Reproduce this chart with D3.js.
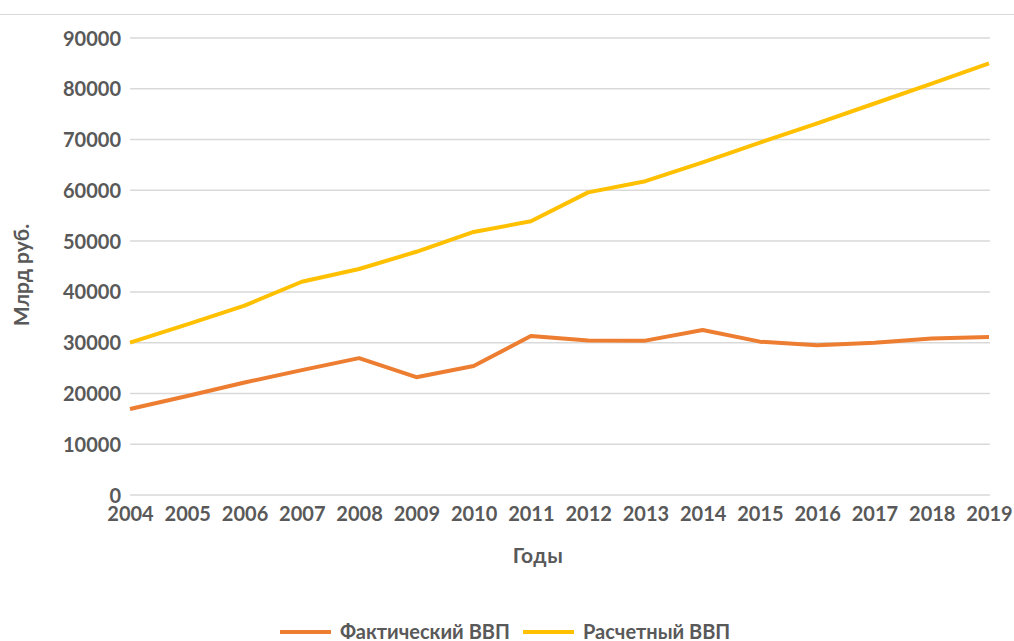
<!DOCTYPE html>
<html>
<head>
<meta charset="utf-8">
<script src="https://cdn.jsdelivr.net/npm/d3@7"></script>
<style>
  html, body { margin: 0; padding: 0; background: #fff; }
  svg text { font-family: Lato, "Open Sans", sans-serif; font-weight: bold; fill: #595959; }
</style>
</head>
<body>
<div id="chart"></div>
<script>
// ---------- Data ----------
const years = [2004, 2005, 2006, 2007, 2008, 2009, 2010, 2011, 2012, 2013, 2014, 2015, 2016, 2017, 2018, 2019];
const actualGdp = [16950, 19500, 22150, 24600, 26950, 23200, 25400, 31300, 30450, 30400, 32500, 30200, 29500, 30000, 30800, 31100];
const estimatedGdp = [30000, 33600, 37300, 42000, 44500, 47900, 51800, 53900, 59600, 61800, 65500, 69400, 73200, 77100, 81000, 85000];
const yTicks = [0, 10000, 20000, 30000, 40000, 50000, 60000, 70000, 80000, 90000];
const seriesNames = ['Фактический ВВП', 'Расчетный ВВП'];
const seriesColors = ['#ED7D31', '#FFC000'];

const W = 1014, H = 641;
const m = { t: 38, r: 25, b: 146, l: 130 };

const svg = d3.select('#chart').append('svg').attr('width', W).attr('height', H);

// top frame line
svg.append('line').attr('x1', 0).attr('x2', W).attr('y1', 14.5).attr('y2', 14.5)
  .attr('stroke', '#d9d9d9').attr('stroke-width', 1);

const x = d3.scaleLinear().domain([2004, 2019]).range([m.l, W - m.r]);
const y = d3.scaleLinear().domain([0, 90000]).range([H - m.b, m.t]);

// grid
svg.append('g').selectAll('line').data(yTicks).join('line')
  .attr('x1', m.l).attr('x2', W - m.r + 1)
  .attr('y1', d => y(d)).attr('y2', d => y(d))
  .attr('stroke', '#d9d9d9').attr('stroke-width', 1.5);

// y axis labels
const yAxis = svg.append('g').attr('transform', `translate(${m.l - 9},0)`)
  .call(d3.axisLeft(y).tickValues(yTicks).tickSize(0).tickPadding(0).tickFormat(d => d));
yAxis.select('.domain').remove();
yAxis.selectAll('text').attr('font-size', 20).attr('dy', '0.35em')
  .style('font-family', 'Lato, sans-serif').style('font-weight', 'bold').attr('fill', '#595959');

// x axis labels
const xAxis = svg.append('g').attr('transform', 'translate(0,521)')
  .call(d3.axisBottom(x).tickValues(years).tickSize(0).tickPadding(0).tickFormat(d => d));
xAxis.select('.domain').remove();
xAxis.selectAll('text').attr('font-size', 20).attr('y', 0).attr('dy', 0)
  .style('font-family', 'Lato, sans-serif').style('font-weight', 'bold').attr('fill', '#595959');

// axis titles
svg.append('text').attr('x', 538).attr('y', 563).attr('text-anchor', 'middle')
  .attr('font-size', 21).attr('letter-spacing', 0.5).text('Годы');
svg.append('text').attr('transform', 'translate(29,275) rotate(-90)').attr('text-anchor', 'middle')
  .attr('font-size', 21).text('Млрд руб.');

// lines
const line = d3.line().x((d, i) => x(years[i])).y(d => y(d));
[actualGdp, estimatedGdp].forEach((vals, i) => {
  svg.append('path').datum(vals).attr('d', line)
    .attr('fill', 'none').attr('stroke', seriesColors[i]).attr('stroke-width', 4)
    .attr('stroke-linejoin', 'round');
});

// legend
const legendX = [280, 523];
const lg = svg.append('g').selectAll('g').data(seriesNames).join('g')
  .attr('transform', (d, i) => `translate(${legendX[i]},632)`);
lg.append('line').attr('x1', 0).attr('x2', 51).attr('y1', 0).attr('y2', 0)
  .attr('stroke', (d, i) => seriesColors[i]).attr('stroke-width', 4);
lg.append('text').attr('x', 60).attr('y', 0).attr('dy', '0.36em').attr('font-size', 20).text(d => d);
</script>
</body>
</html>
